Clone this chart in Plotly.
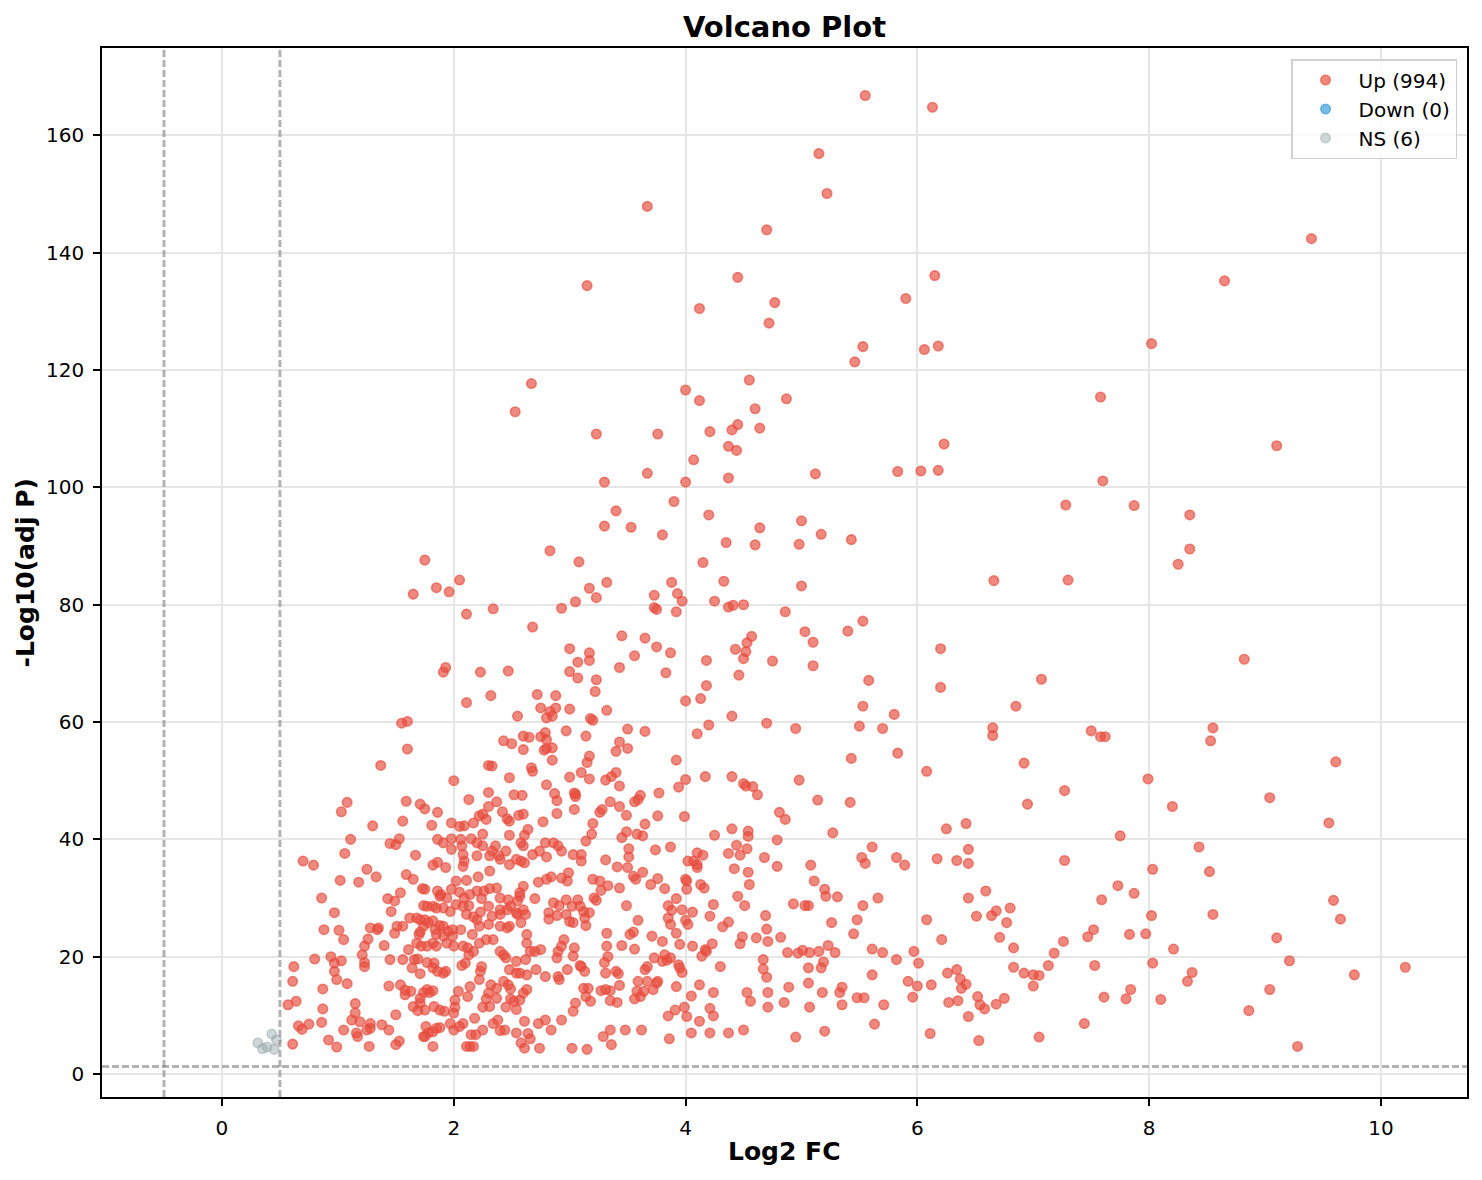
import plotly.graph_objects as go

# values: (log2 fold change, -log10 adjusted p)
up_upper = [
    (5.55, 166.8), (6.13, 164.8), (5.15, 156.9), (5.22, 150.1), (3.67, 147.9), (4.7, 143.9), (9.4, 142.4),
    (6.15, 136.1), (4.45, 135.8), (8.65, 135.2), (3.15, 134.4), (5.9, 132.2), (4.77, 131.5), (4.12, 130.5),
    (4.72, 128.0), (8.02, 124.5), (6.18, 124.1), (5.53, 124.0), (6.06, 123.5), (5.46, 121.4), (2.67, 117.7),
    (4.55, 118.3), (4.0, 116.6), (7.58, 115.4), (4.87, 115.1), (4.12, 114.8), (2.53, 112.9), (4.6, 113.4),
    (4.45, 110.7), (4.64, 110.1), (4.21, 109.5), (4.4, 109.8), (3.23, 109.1), (3.76, 109.1), (6.23, 107.4),
    (9.1, 107.1), (4.37, 107.0), (4.44, 106.3), (4.07, 104.7), (3.67, 102.4), (5.83, 102.7), (6.03, 102.8),
    (6.18, 102.9), (5.12, 102.3), (4.37, 101.6), (3.3, 100.9), (4.0, 100.9), (7.6, 101.1),
    (3.9, 97.6), (7.28, 97.0), (7.87, 96.9), (3.4, 96.0), (8.35, 95.3), (4.2, 95.3), (5.0, 94.3), (3.53, 93.2),
    (3.3, 93.4), (4.64, 93.1), (5.17, 92.0), (3.8, 91.9), (5.43, 91.1), (4.35, 90.6), (4.98, 90.3), (4.6, 90.2),
    (8.35, 89.5), (2.83, 89.2), (1.75, 87.6), (3.08, 87.3), (4.15, 87.2), (8.25, 86.9), (2.05, 84.2), (7.3, 84.2),
    (6.66, 84.1), (3.32, 83.8), (3.88, 83.8), (4.33, 84.0), (3.17, 82.8), (1.85, 82.9), (1.96, 82.2), (1.65, 81.8),
    (5.0, 83.2), (3.93, 81.9), (3.73, 81.6), (3.23, 81.2), (4.25, 80.6), (3.97, 80.6), (3.05, 80.5), (4.5, 80.0),
    (2.34, 79.3), (3.73, 79.5), (3.75, 79.2), (2.93, 79.4), (4.37, 79.6), (4.41, 79.9), (3.92, 78.8), (2.11, 78.4),
    (4.86, 78.8),
    (5.53, 77.2), (2.68, 76.2), (5.03, 75.4), (5.4, 75.5), (3.45, 74.7), (4.57, 74.6), (3.65, 74.3), (4.53, 73.5),
    (5.1, 73.6), (4.43, 72.4), (6.2, 72.5), (3.75, 72.8), (4.52, 72.0), (3.87, 71.8), (3.17, 71.8), (3.56, 71.3),
    (3.0, 72.5), (4.5, 70.8), (3.07, 70.2), (3.17, 70.5), (4.18, 70.5), (4.75, 70.4), (8.82, 70.7), (3.43, 69.3),
    (5.1, 69.6), (1.93, 69.3), (1.91, 68.5), (3.0, 68.6), (3.83, 68.4), (2.23, 68.5), (2.47, 68.7), (4.46, 68.0),
    (3.07, 67.5), (3.23, 67.2), (7.07, 67.3), (5.58, 67.1), (4.18, 66.2), (6.2, 65.9), (2.72, 64.7), (2.88, 64.5),
    (2.32, 64.5), (3.22, 65.2), (4.13, 64.0), (4.0, 63.6), (2.11, 63.3), (5.53, 62.7), (6.85, 62.7), (2.88, 62.4),
    (2.75, 62.4), (3.0, 62.2), (3.32, 62.0), (2.83, 61.8), (5.8, 61.3), (2.85, 61.0), (4.4, 61.0), (2.55, 61.0),
    (2.8, 60.7), (3.18, 60.6), (3.2, 60.3), (1.55, 59.8), (1.6, 60.1), (4.2, 59.5), (4.7, 59.8), (5.5, 59.3),
    (6.65, 59.0), (8.55, 59.0), (2.97, 58.5), (3.5, 58.8), (3.65, 58.4), (4.95, 58.9), (5.7, 58.9), (7.5, 58.5),
    (2.6, 57.6), (3.14, 57.6), (2.75, 57.5), (4.1, 58.0), (7.58, 57.5), (7.62, 57.5), (6.65, 57.7), (8.53, 56.8),
    (2.43, 56.8), (3.43, 56.6), (2.5, 56.3), (3.5, 55.5), (1.6, 55.4), (2.6, 55.3), (2.8, 55.5), (2.78, 55.2),
    (3.4, 55.0), (5.83, 54.7), (5.43, 53.8), (3.92, 53.5), (2.85, 53.5), (3.15, 53.1), (6.92, 53.0), (1.37, 52.6),
    (2.3, 52.6), (2.33, 52.5), (2.67, 52.2), (2.68, 51.6), (3.4, 51.4), (3.1, 51.4), (6.08, 51.6), (3.36, 50.7),
    (4.17, 50.7), (4.4, 50.7), (2.48, 50.5), (3.0, 50.6), (3.17, 50.3), (2.0, 50.0), (4.5, 49.5), (4.0, 50.2),
    (4.98, 50.1), (4.52, 49.1), (4.58, 49.0), (2.8, 49.3), (3.94, 48.9), (3.05, 47.7), (3.61, 47.5), (3.05, 47.3),
    (3.77, 47.9), (2.87, 47.8), (2.52, 47.6), (2.59, 47.5), (4.62, 47.6),
    (2.65, 57.4), (2.30, 48.0), (2.79, 58.2), (2.80, 57.0), (2.85, 55.6), (3.17, 54.2), (3.43, 49.1), (3.31, 50.1),
    (3.04, 47.9),
]

up_low_left = [
    (1.08, 46.3), (1.03, 44.7), (1.59, 46.5), (1.71, 46.0), (1.75, 45.2), (1.86, 44.6), (1.56, 43.1), (1.30, 42.3),
    (1.81, 42.4), (1.98, 42.8), (2.05, 42.2), (2.09, 42.3), (2.17, 42.8), (2.22, 44.0), (2.25, 44.3), (2.30, 45.6),
    (2.37, 46.4), (2.42, 44.7), (2.46, 43.5), (2.48, 43.1), (2.56, 44.1), (2.60, 44.3), (2.13, 46.8), (2.28, 43.4),
    (1.11, 40.0), (1.53, 40.1), (1.45, 39.3), (1.50, 39.1), (1.86, 40.0), (1.91, 39.4), (1.98, 40.1), (1.98, 38.3),
    (2.06, 40.0), (2.07, 38.9), (2.15, 40.1), (2.20, 39.4), (2.25, 40.9), (2.25, 38.9), (2.36, 38.9), (2.33, 38.0),
    (2.31, 37.2), (2.39, 37.2), (2.45, 38.0), (2.48, 40.7), (2.58, 39.4), (2.60, 38.9), (1.06, 37.6), (1.67, 37.3),
    (2.08, 37.4), (2.09, 36.3), (2.20, 37.2), (2.40, 36.6), (2.54, 36.6), (0.70, 36.3), (0.79, 35.6), (1.82, 35.6),
    (1.86, 36.1), (1.93, 35.2), (2.08, 35.4), (2.31, 34.6), (2.48, 35.7), (2.61, 36.0), (1.25, 34.9), (1.33, 33.6),
    (1.02, 33.0), (1.18, 32.7), (1.59, 34.0), (1.65, 33.2), (1.75, 31.5), (1.73, 31.6), (2.21, 33.6), (2.11, 33.0),
    (2.02, 32.9), (1.98, 31.5), (1.86, 31.2), (1.89, 30.6), (1.88, 30.3), (1.94, 30.0), (2.05, 31.0), (2.09, 30.0),
    (2.14, 30.6), (2.20, 31.2), (2.24, 29.9), (2.26, 31.2), (2.31, 31.6), (2.37, 31.7), (2.40, 30.0), (2.47, 29.7),
    (2.49, 28.6), (2.55, 29.5), (2.57, 30.3), (2.60, 28.0), (2.55, 27.2), (2.62, 27.2), (2.46, 28.0), (2.40, 28.0),
    (2.30, 28.6), (2.23, 27.6), (2.13, 28.7), (2.11, 27.2), (2.08, 28.6), (2.02, 28.9), (1.97, 27.7), (1.91, 28.3),
    (1.85, 28.3), (1.82, 28.6), (1.77, 28.6), (1.74, 28.7), (0.86, 30.0), (0.97, 27.5), (1.43, 29.9), (1.49, 29.5),
    (1.54, 30.9), (1.46, 27.7), (1.62, 26.6), (1.68, 26.6), (1.71, 26.3), (1.75, 26.3), (1.74, 25.2), (1.78, 25.8),
    (1.82, 26.1), (1.84, 24.6), (1.88, 25.3), (1.91, 25.2), (1.95, 24.3), (1.99, 24.6), (2.06, 24.6), (2.17, 26.8),
    (2.20, 26.3), (2.16, 23.8), (2.22, 25.2), (2.30, 25.5), (2.33, 26.9), (2.40, 27.2), (2.40, 25.2), (2.48, 25.2),
    (2.58, 25.8), (2.54, 27.5), (2.63, 23.8), (2.63, 22.3), (2.46, 24.9), (0.88, 24.6), (1.01, 24.5), (1.05, 22.9),
    (1.28, 24.9), (1.34, 24.6), (1.35, 24.9), (1.26, 23.0), (1.23, 21.8), (1.21, 20.3), (1.40, 21.9), (1.49, 24.0),
    (1.51, 25.2), (1.56, 25.2), (1.61, 21.2), (1.68, 22.3), (1.71, 24.2), (1.72, 21.8), (1.70, 23.8), (1.77, 21.8),
    (1.82, 22.3), (1.85, 21.8), (1.85, 23.8), (1.91, 23.5), (1.94, 22.3), (1.99, 23.5), (2.00, 21.8), (2.08, 21.8),
    (2.12, 21.5), (2.17, 20.9), (2.22, 22.3), (2.28, 22.9), (2.34, 22.9), (2.40, 20.9), (2.43, 20.3), (2.45, 19.8),
    (2.54, 19.2), (2.48, 17.8), (2.54, 17.2), (2.62, 19.5), (0.80, 19.6), (0.94, 20.0), (0.97, 18.9), (1.03, 19.3),
    (0.97, 17.5), (0.99, 16.1), (1.08, 15.4), (0.62, 18.3), (0.61, 15.8), (0.87, 14.5), (0.57, 11.8), (0.64, 12.4),
    (0.87, 11.1), (0.66, 8.2), (0.69, 7.6), (0.75, 8.5), (0.86, 8.8), (0.61, 5.1), (0.92, 5.8), (0.99, 4.6),
    (1.23, 19.0), (1.23, 18.3), (1.45, 19.5), (1.56, 19.5), (1.66, 19.5), (1.69, 19.6), (1.77, 19.0), (1.83, 18.9),
    (1.82, 18.1), (1.86, 17.5), (1.91, 17.2), (1.93, 17.5), (1.71, 17.1), (1.64, 18.1), (2.07, 18.5), (2.10, 18.9),
    (2.13, 20.3), (2.23, 17.5), (2.24, 18.3), (2.22, 16.1), (2.14, 14.9), (2.12, 13.2), (2.04, 14.1), (2.32, 15.2),
    (2.37, 14.6), (2.43, 15.8), (2.47, 15.2), (2.49, 14.5), (2.37, 12.9), (2.30, 13.8), (2.28, 12.8), (2.31, 11.5),
    (2.25, 11.4), (2.45, 11.4), (2.49, 12.8), (2.52, 12.4), (2.54, 11.0), (2.57, 12.6), (2.60, 13.8), (2.63, 14.4),
    (1.44, 15.0), (1.54, 15.2), (1.58, 14.3), (1.63, 14.1), (1.58, 13.5), (1.77, 14.4), (1.79, 13.9), (1.82, 14.2),
    (1.74, 13.9), (1.71, 12.9), (1.71, 12.1), (1.65, 11.5), (1.69, 10.8), (1.75, 10.9), (1.83, 11.5), (1.88, 10.9),
    (1.92, 10.7), (2.01, 12.6), (2.01, 11.4), (2.00, 10.4), (1.15, 12.0), (1.15, 10.4), (1.12, 9.2), (1.19, 8.9),
    (1.28, 8.6), (1.28, 7.8), (1.25, 7.5), (1.38, 8.4), (1.44, 7.5), (1.50, 10.1), (1.05, 7.5), (1.16, 7.0),
    (1.17, 6.4), (1.27, 4.7), (1.50, 5.0), (1.53, 5.6), (1.76, 8.1), (1.78, 7.0), (1.75, 6.4), (1.82, 7.2),
    (1.85, 7.8), (1.88, 7.9), (1.97, 8.6), (2.00, 7.5), (2.05, 8.1), (2.08, 8.6), (2.18, 9.5), (2.15, 6.7),
    (2.19, 6.7), (2.25, 7.5), (2.34, 8.6), (2.40, 7.4), (2.44, 7.5), (2.38, 9.2), (2.54, 7.0), (2.58, 5.3),
    (2.61, 4.4), (1.82, 4.7), (2.11, 4.7), (2.14, 4.7), (2.17, 4.7), (1.74, 6.4),
]

up_low_mid = [
    (2.89, 46.6), (3.04, 45.1), (3.26, 44.6), (3.28, 45.1), (3.35, 46.4), (3.43, 45.6), (3.49, 44.1), (3.56, 46.4),
    (3.59, 46.8), (3.76, 44.0), (3.99, 43.9), (3.20, 42.7), (2.89, 44.4), (2.77, 43.0), (2.64, 41.7), (2.61, 40.7),
    (3.65, 42.6), (3.49, 41.3), (3.45, 40.3), (3.58, 40.9), (3.63, 40.6), (3.19, 40.9), (3.14, 39.7), (3.74, 38.2),
    (3.87, 38.7), (3.51, 38.4), (3.51, 37.0), (2.79, 39.4), (2.86, 39.4), (2.90, 38.9), (2.93, 38.0), (3.03, 37.4),
    (3.10, 37.4), (3.10, 36.3), (2.74, 38.0), (2.68, 37.4), (2.58, 36.3), (2.80, 37.0), (3.31, 36.5), (3.41, 35.3),
    (3.50, 35.2), (3.55, 33.7), (3.57, 33.2), (3.63, 34.4), (3.70, 32.3), (3.76, 33.3), (3.82, 31.6), (3.43, 31.7),
    (3.20, 33.2), (3.26, 32.9), (3.33, 32.1), (3.27, 31.3), (2.93, 33.4), (2.99, 34.3), (2.98, 32.9), (2.84, 33.6),
    (2.80, 33.2), (2.73, 32.7), (2.60, 32.0), (2.70, 29.9), (2.86, 29.2), (2.91, 28.7), (2.97, 29.7), (3.02, 28.6),
    (3.07, 29.7), (3.09, 28.6), (3.12, 27.7), (3.17, 27.5), (3.00, 26.0), (3.14, 25.3), (3.13, 26.6), (2.82, 27.5),
    (2.82, 26.4), (2.89, 27.0), (2.97, 27.2), (3.03, 25.8), (2.57, 30.9), (3.21, 30.0), (3.23, 29.6), (3.49, 28.7),
    (3.59, 26.2), (3.85, 28.7), (3.88, 27.9), (3.85, 26.6), (3.92, 29.9), (3.97, 28.0), (3.87, 25.5), (4.01, 31.5),
    (4.01, 32.9), (4.10, 35.7), (4.10, 35.2), (4.07, 36.3), (4.02, 36.3), (4.15, 37.3), (4.10, 37.7), (4.00, 33.2),
    (4.13, 32.3), (4.16, 31.7), (4.06, 27.6), (4.00, 26.2), (4.02, 25.5), (4.21, 26.9), (4.24, 28.9), (4.32, 25.1),
    (4.37, 25.9), (4.25, 40.7), (4.40, 41.8), (4.54, 41.4), (4.54, 40.5), (4.44, 39.0), (4.37, 37.6), (4.47, 37.3),
    (4.53, 38.4), (4.42, 35.0), (4.54, 34.4), (4.55, 32.3), (4.68, 36.9), (4.79, 39.9), (4.79, 35.4), (4.45, 30.3),
    (4.51, 28.7), (4.69, 27.0), (4.70, 24.7), (4.71, 22.6), (4.61, 23.2), (4.49, 23.4), (4.47, 22.2), (4.06, 21.8),
    (4.14, 20.1), (4.17, 21.2), (4.18, 20.9), (4.23, 22.2), (4.30, 18.3), (4.12, 15.2), (4.24, 13.9), (4.21, 11.2),
    (4.24, 9.9), (4.12, 9.0), (4.05, 13.3), (3.99, 11.4), (4.01, 9.8), (3.91, 10.9), (3.85, 9.9), (3.92, 14.9),
    (3.95, 18.1), (3.97, 17.3), (3.94, 18.6), (3.87, 19.8), (3.84, 19.4), (3.82, 20.3), (3.80, 19.2), (3.73, 19.8),
    (3.71, 23.5), (3.80, 22.6), (3.95, 22.1), (3.92, 24.0), (3.75, 15.5), (3.72, 14.4), (3.76, 15.8), (3.67, 15.8),
    (3.64, 14.1), (3.58, 14.1), (3.59, 15.8), (3.61, 13.2), (3.56, 12.8), (3.65, 17.8), (3.67, 18.3), (3.43, 15.1),
    (3.35, 14.2), (3.35, 12.5), (3.41, 12.2), (3.31, 14.4), (3.27, 14.2), (3.31, 17.2), (3.40, 17.5), (3.42, 17.1),
    (3.30, 19.0), (3.33, 20.0), (3.32, 21.8), (3.32, 24.0), (3.45, 21.9), (3.52, 23.8), (3.55, 24.2), (3.56, 21.3),
    (3.10, 18.3), (3.13, 17.5), (3.09, 18.5), (3.04, 21.5), (3.03, 20.1), (2.95, 22.9), (2.93, 21.8), (2.89, 19.8),
    (2.90, 20.9), (2.75, 21.2), (2.70, 20.9), (2.66, 20.9), (2.71, 17.8), (2.79, 16.6), (2.98, 17.8), (2.91, 16.1),
    (2.90, 16.6), (3.12, 14.6), (3.16, 14.6), (3.14, 13.2), (3.18, 12.4), (3.05, 12.1), (3.03, 10.7), (2.93, 9.2),
    (2.84, 7.5), (2.79, 9.2), (2.73, 8.6), (2.61, 9.0), (2.64, 6.9), (2.66, 6.0), (2.74, 4.4), (3.02, 4.4),
    (3.15, 4.2), (3.29, 6.4), (3.35, 7.5), (3.36, 5.0), (3.48, 7.5), (3.62, 7.5), (3.86, 6.0), (4.05, 7.0),
    (4.21, 7.0), (4.37, 7.0), (4.50, 7.5), (2.57, 17.2), (2.63, 16.9), (4.67, 19.5), (4.67, 17.9), (4.70, 16.5),
    (4.71, 13.9), (4.71, 11.4), (4.56, 12.4), (4.53, 13.9),
]

up_low_right = [
    (5.14, 46.7), (5.42, 46.3), (4.81, 44.6), (4.86, 43.4), (5.27, 41.1), (5.61, 38.7), (5.52, 36.9), (5.55, 35.9),
    (5.82, 36.9), (5.89, 35.6), (5.08, 35.6), (5.11, 32.9), (5.20, 31.5), (5.21, 30.3), (5.31, 30.2), (4.93, 29.0),
    (5.03, 28.7), (5.06, 28.7), (5.53, 28.7), (5.66, 30.0), (5.48, 26.3), (5.26, 25.8), (5.45, 23.9), (4.82, 23.3),
    (4.88, 20.7), (4.97, 20.6), (5.01, 21.1), (5.07, 20.7), (5.15, 20.9), (5.23, 21.9), (5.29, 20.7), (5.19, 19.1),
    (5.17, 18.1), (5.06, 18.1), (5.61, 21.3), (5.70, 20.7), (5.82, 19.5), (5.97, 20.9), (6.01, 18.9), (5.61, 16.9),
    (4.89, 14.8), (5.06, 15.5), (5.18, 13.9), (5.33, 13.9), (5.35, 14.8), (5.48, 13.0), (5.54, 13.0), (4.85, 12.2),
    (5.07, 11.4), (5.35, 11.8), (5.71, 11.8), (5.63, 8.5), (5.20, 7.3), (4.95, 6.3), (5.92, 15.8), (6.00, 15.0),
    (5.96, 13.1), (6.12, 15.2), (6.08, 26.3), (6.21, 22.9), (6.17, 36.7), (6.25, 41.8), (6.42, 42.7), (6.44, 38.3),
    (6.34, 36.4), (6.44, 35.9), (6.44, 30.0), (6.59, 31.2), (6.51, 26.9), (6.64, 27.0), (6.68, 27.8), (6.80, 28.3),
    (6.77, 25.8), (6.71, 23.3), (6.83, 21.5), (6.26, 17.2), (6.34, 17.8), (6.37, 16.2), (6.42, 15.3), (6.38, 14.6),
    (6.27, 12.2), (6.35, 12.5), (6.52, 13.2), (6.54, 11.8), (6.58, 11.1), (6.68, 11.9), (6.75, 12.9), (6.44, 9.8),
    (6.11, 6.9), (6.53, 5.7), (6.83, 18.2), (6.92, 17.2), (7.00, 16.9), (7.05, 16.8), (7.00, 15.0), (7.13, 18.5),
    (7.18, 20.6), (7.26, 22.6), (7.27, 36.4), (6.95, 46.0), (7.05, 6.3),
]

up_low_far = [
    (7.99, 50.3), (8.20, 45.6), (7.75, 40.6), (8.03, 34.9), (8.43, 38.7), (8.52, 34.5), (7.73, 32.1), (7.87, 30.8),
    (7.59, 29.7), (8.02, 27.0), (8.55, 27.2), (7.52, 24.6), (7.47, 23.4), (7.83, 23.8), (7.97, 23.9), (8.21, 21.3),
    (7.53, 18.5), (8.03, 18.9), (8.37, 17.3), (8.33, 15.8), (7.61, 13.1), (7.80, 12.8), (7.84, 14.4), (8.10, 12.7),
    (8.86, 10.8), (9.04, 14.4), (9.10, 23.2), (9.21, 19.3), (9.28, 4.7), (9.77, 16.9), (10.21, 18.2), (9.04, 47.1),
    (9.55, 42.8), (9.59, 29.6), (9.65, 26.4), (7.44, 8.6), (9.61, 53.2), (7.27, 48.3),
]

ns_points = [(0.31, 5.3), (0.35, 4.3), (0.39, 4.6), (0.43, 6.8), (0.47, 5.8), (0.45, 4.2)]
down_points = []

legend_labels = ["Up (994)", "Down (0)", "NS (6)"]
fc_cutoff = 0.5
p_cutoff = 1.3  # -log10(0.05)

up = up_upper + up_low_left + up_low_mid + up_low_right + up_low_far

fig = go.Figure()


def add_group(points, name, rgb, alpha):
    xs = [p[0] for p in points] or [None]
    ys = [p[1] for p in points] or [None]
    fig.add_trace(go.Scatter(
        x=xs, y=ys, mode="markers", name=name,
        marker=dict(size=9.5, color=f"rgba({rgb},{alpha})",
                    line=dict(color=f"rgba({rgb},{alpha})", width=1.6)),
    ))


add_group(up, legend_labels[0], "231,76,60", 0.66)
add_group(down_points, legend_labels[1], "52,152,219", 0.66)
add_group(ns_points, legend_labels[2], "149,165,166", 0.45)

dash_line = dict(color="rgba(128,128,128,0.6)", width=3, dash="7px,3px")
for xv in (-fc_cutoff, fc_cutoff):
    fig.add_shape(type="line", xref="x", yref="paper", x0=xv, x1=xv, y0=0, y1=1, line=dash_line)
fig.add_shape(type="line", xref="paper", yref="y", x0=0, x1=1, y0=p_cutoff, y1=p_cutoff, line=dash_line)

axis_style = dict(
    showline=True, mirror=True, linecolor="black", linewidth=1.6,
    ticks="outside", ticklen=7, tickwidth=1.6, tickcolor="black",
    showgrid=True, gridcolor="#e6e6e6", gridwidth=1.6, zeroline=False,
    tickfont=dict(size=20, color="black"), ticklabelstandoff=5,
)

fig.update_xaxes(range=[-1.035, 10.742], tickvals=[0, 2, 4, 6, 8, 10], **axis_style)
fig.update_yaxes(range=[-3.92, 174.9], tickvals=[0, 20, 40, 60, 80, 100, 120, 140, 160], **axis_style)

# the page body adds an 8px margin, so the figure is 8px smaller and shifted
fig.update_layout(
    width=1474, height=1172,
    margin=dict(l=94, r=15, t=40, b=83),
    plot_bgcolor="white", paper_bgcolor="white",
    font=dict(family="DejaVu Sans", size=20, color="black"),
    title=dict(text="<b>Volcano Plot</b>", font=dict(size=29), x=0.5, xref="paper",
               y=1 - 19 / 1172, yref="container", yanchor="middle"),
    legend=dict(x=0.9927, xanchor="right", y=0.9895, yanchor="top", itemwidth=56,
                bgcolor="rgba(255,255,255,0.8)", bordercolor="#d0d0d0", borderwidth=1.5,
                font=dict(size=20)),
    annotations=[
        dict(text="<b>Log2 FC</b>", x=0.5, y=-0.0524, xref="paper", yref="paper",
             showarrow=False, font=dict(size=25), yanchor="middle"),
        dict(text="<b>-Log10(adj P)</b>", x=-0.0557, y=0.5, xref="paper", yref="paper",
             showarrow=False, font=dict(size=25), textangle=-90, xanchor="center"),
    ],
)

fig.write_html("out.html")
